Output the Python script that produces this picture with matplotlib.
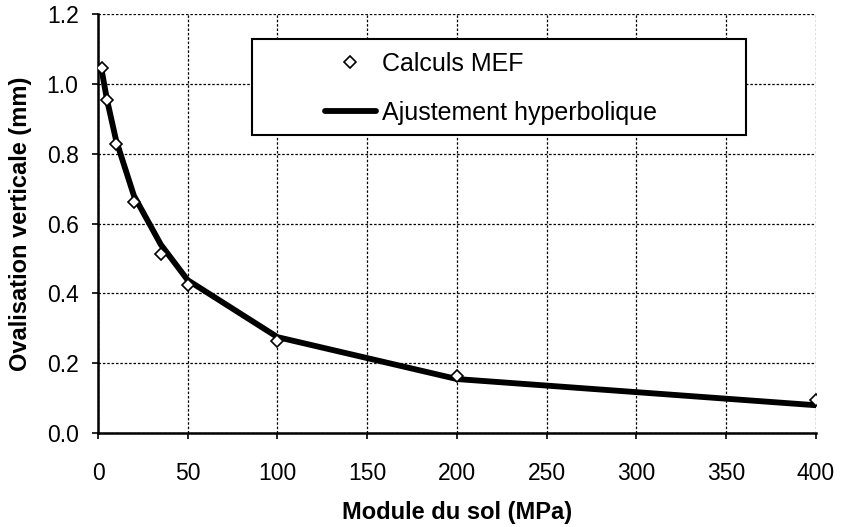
import matplotlib.pyplot as plt
from matplotlib.patches import Rectangle

plt.rcParams['font.family'] = ['Liberation Sans', 'DejaVu Sans']

# module du sol (MPa)
module = [2, 5, 10, 20, 35, 50, 100, 200, 400]
# ovalisation verticale (mm)
calculs_mef = [1.045, 0.953, 0.829, 0.663, 0.514, 0.423, 0.265, 0.163, 0.095]
ajustement = [1.040, 0.955, 0.840, 0.680, 0.540, 0.438, 0.275, 0.155, 0.080]

xticks = [0, 50, 100, 150, 200, 250, 300, 350, 400]
yticks = [0.0, 0.2, 0.4, 0.6, 0.8, 1.0, 1.2]

fig = plt.figure(figsize=(8.42, 5.27), dpi=100)
ax = fig.add_axes([0.1164, 0.178, 0.8526, 0.7954])

ax.plot(module, ajustement, color='black', lw=4.2, solid_capstyle='round',
        label='Ajustement hyperbolique', zorder=3)
ax.plot(module, calculs_mef, ls='none', marker='D', ms=6.5, mfc='white',
        mec='black', mew=1.2, label='Calculs MEF', zorder=4)

ax.set_xlim(0, 400)
ax.set_ylim(0, 1.2)
ax.set_xticks(xticks)
ax.set_yticks(yticks)
ax.set_yticklabels([f'{v:.1f}' for v in yticks])
ax.tick_params(direction='out', length=4, width=1.2, labelsize=16.5)
ax.tick_params(axis='y', pad=10)
ax.tick_params(axis='x', pad=17)

ax.grid(True, color='black', ls=(0, (2, 1.5)), lw=0.9)
ax.set_axisbelow(True)
for s in ['top', 'right']:
    ax.spines[s].set_visible(False)
for s in ['left', 'bottom']:
    ax.spines[s].set_linewidth(1.8)

ax.set_xlabel('Module du sol (MPa)', fontsize=17, fontweight='bold')
ax.set_ylabel('Ovalisation verticale (mm)', fontsize=17, fontweight='bold')
ax.xaxis.set_label_coords(0.5, -0.162)
ax.yaxis.set_label_coords(-0.092, 0.5)

# legend frame (box wider than its contents, as in the original)
ax.add_patch(Rectangle((0.2145, 0.711), 0.688, 0.2286, transform=ax.transAxes,
                       facecolor='white', edgecolor='black', lw=1.5, zorder=5))
handles, labels = ax.get_legend_handles_labels()
leg = ax.legend(handles[::-1], labels[::-1], loc='center left',
                bbox_to_anchor=(0.3155, 0.822), fontsize=18, frameon=False,
                handlelength=2.05, handletextpad=0.25, borderpad=0,
                borderaxespad=0, labelspacing=1.0)
leg.set_zorder(6)

fig.savefig('out.png', dpi=100)
